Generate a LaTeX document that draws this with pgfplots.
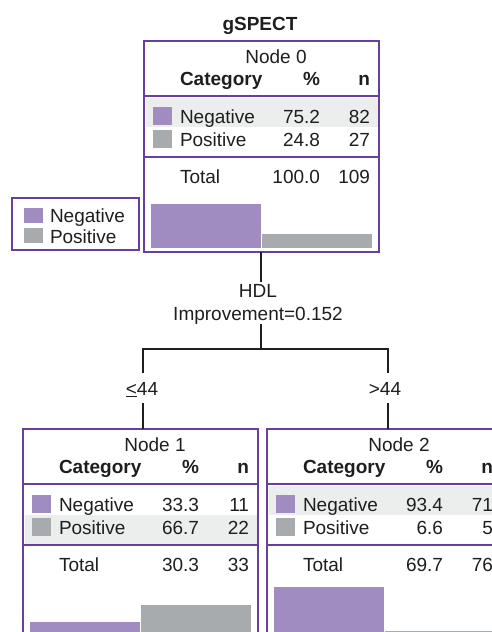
\documentclass[border=0pt]{standalone}
\usepackage{fontspec}
\setmainfont{Liberation Sans}
\usepackage{pgfplots}
\pgfplotsset{compat=1.18}

\definecolor{frame}{RGB}{104,62,158}
\definecolor{negc}{RGB}{160,140,192}
\definecolor{posc}{RGB}{167,171,173}
\definecolor{band}{RGB}{236,238,237}
\definecolor{ink}{RGB}{30,30,30}

\newcommand{\treefont}{\fontsize{19}{23}\selectfont}

\pgfplotsset{
  nodebars/.style={
    scale only axis, hide axis, width=223pt,
    ymin=0, ymax=100, xmin=-0.5, xmax=1.5,
    anchor=south west,
  },
  negbar/.style={ybar, bar width=0.99, bar shift=0pt, fill=negc, draw=none},
  posbar/.style={ybar, bar width=0.99, bar shift=0pt, fill=posc, draw=none},
}

% table of one node: #1 left, #2 top, #3 number, #4-#5 negative, #6-#7 positive, #8-#9 total
\newcommand{\nodetable}[9]{%
  \begin{scope}[shift={(#1,#2)}]
    \node[anchor=base] at (132,22) {Node #3};
    \node[anchor=base west, font=\treefont\bfseries] at (36,44) {Category};
    \node[anchor=base east, font=\treefont\bfseries] at (176,44) {\%};
    \node[anchor=base east, font=\treefont\bfseries] at (226,44) {n};
    \fill[negc] (9,66) rectangle (28,84);
    \fill[posc] (9,89) rectangle (28,107);
    \node[anchor=base west] at (36,82) {Negative};
    \node[anchor=base east] at (176,82) {#4};
    \node[anchor=base east] at (226,82) {#5};
    \node[anchor=base west] at (36,105) {Positive};
    \node[anchor=base east] at (176,105) {#6};
    \node[anchor=base east] at (226,105) {#7};
    \node[anchor=base west] at (36,142) {Total};
    \node[anchor=base east] at (176,142) {#8};
    \node[anchor=base east] at (226,142) {#9};
    \draw[frame, line width=1.6pt] (0,55) -- (235,55);
    \draw[frame, line width=1.6pt] (0,116) -- (235,116);
  \end{scope}}

\begin{document}
\begin{tikzpicture}[x=1pt, y=-1pt, font=\treefont, text=ink,
    every node/.style={inner sep=0pt, outer sep=0pt}]

% highlighted rows
\fill[band] (146,98) rectangle (378,127);
\fill[band] (25,515) rectangle (257,544);
\fill[band] (269,486) rectangle (501,515);

\node[anchor=base, font=\treefont\bfseries] at (260,30) {gSPECT};

\nodetable{144}{41}{0}{75.2}{82}{24.8}{27}{100.0}{109}
\nodetable{23}{429}{1}{33.3}{11}{66.7}{22}{30.3}{33}
\nodetable{267}{429}{2}{93.4}{71}{6.6}{5}{69.7}{76}

\draw[frame, line width=2pt] (144,41) rectangle (379,252);
\draw[frame, line width=2pt] (23,700) -- (23,429) -- (258,429) -- (258,700);
\draw[frame, line width=2pt] (267,700) -- (267,429) -- (502,429) -- (502,700);

% legend
\draw[frame, line width=2pt] (12,198) rectangle (139,250);
\fill[negc] (24,208) rectangle (43,223);
\fill[posc] (24,228) rectangle (43,243);
\node[anchor=base west] at (50,222) {Negative};
\node[anchor=base west] at (50,243) {Positive};

% split
\draw[ink, line width=2pt] (261,252) -- (261,282);
\node[anchor=base] at (258,297) {HDL};
\node[anchor=base] at (258,320) {Improvement=0.152};
\draw[ink, line width=2pt] (261,324) -- (261,349);
\draw[ink, line width=2pt] (143,373) -- (143,349) -- (388,349) -- (388,373);
\node[anchor=base] at (142,395) {\underline{<}44};
\node[anchor=base] at (385,395) {>44};
\draw[ink, line width=2pt] (143,403) -- (143,429);
\draw[ink, line width=2pt] (388,403) -- (388,429);

% bar charts in the nodes
\begin{axis}[nodebars, height=59pt, at={(150pt,-248.3pt)}]
  \addplot[negbar] coordinates {(0,75.2)};
  \addplot[posbar] coordinates {(1,24.8)};
\end{axis}
\begin{axis}[nodebars, height=53pt, at={(29pt,-640pt)}]
  \addplot[negbar] coordinates {(0,33.3)};
  \addplot[posbar] coordinates {(1,66.7)};
\end{axis}
\begin{axis}[nodebars, height=51pt, at={(273pt,-634.5pt)}]
  \addplot[negbar] coordinates {(0,93.4)};
  \addplot[posbar] coordinates {(1,6.6)};
\end{axis}

\pgfresetboundingbox
\useasboundingbox (0,0) rectangle (492,632);
\end{tikzpicture}
\end{document}
